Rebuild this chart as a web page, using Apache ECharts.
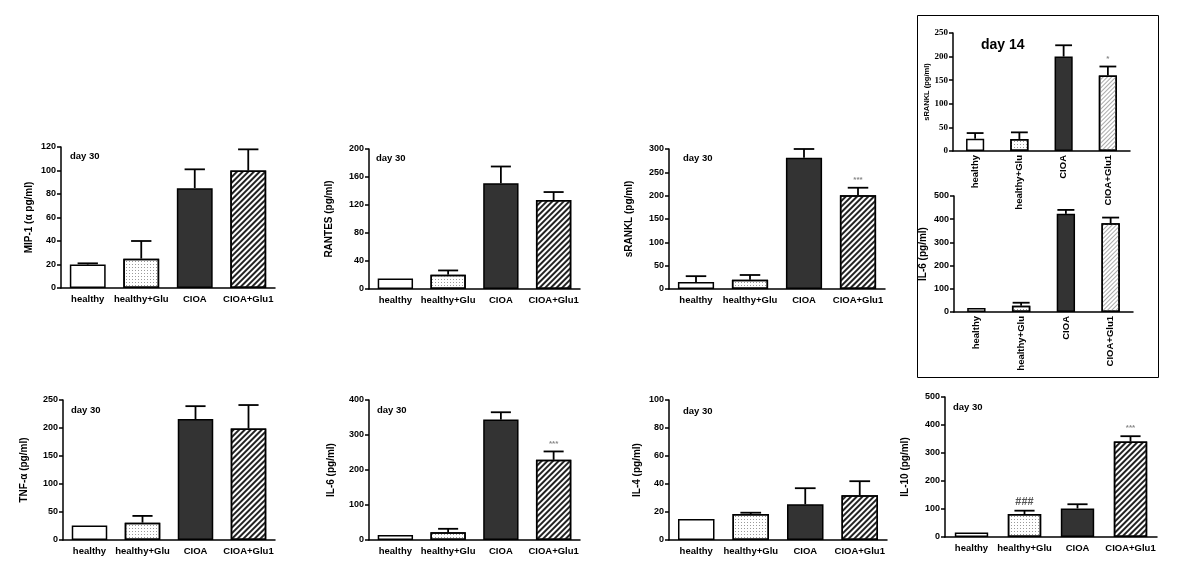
<!DOCTYPE html>
<html><head><meta charset="utf-8">
<script src="https://cdn.jsdelivr.net/npm/echarts@6/dist/echarts.min.js"></script>
<style>html,body{margin:0;padding:0;background:#fff}#c{width:1200px;height:573px}</style>
</head><body><div id="c"></div>
<script>
const categories = ['healthy', 'healthy+Glu', 'CIOA', 'CIOA+Glu1'];

const mip1Mean = [20, 25, 85, 100];
const mip1Err = [1, 15, 16, 18];
const mip1Sig = ['', '', '', ''];
const mip1Axis = [0, 120, 20];

const rantesMean = [15, 20.5, 151, 127];
const rantesErr = [0, 6, 24, 11.5];
const rantesSig = ['', '', '', ''];
const rantesAxis = [0, 200, 40];

const srankl30Mean = [15, 20, 281, 201];
const srankl30Err = [12.5, 10, 19, 16];
const srankl30Sig = ['', '', '', '***'];
const srankl30Axis = [0, 300, 50];

const srankl14Mean = [26, 25.5, 200, 160];
const srankl14Err = [12, 14, 24, 19];
const srankl14Sig = ['', '', '', '*'];
const srankl14Axis = [0, 250, 50];

const il6d14Mean = [17, 27, 423, 383];
const il6d14Err = [0, 13, 17, 24];
const il6d14Sig = ['', '', '', ''];
const il6d14Axis = [0, 500, 100];

const tnfMean = [26, 31, 216, 199];
const tnfErr = [0, 12, 23, 42];
const tnfSig = ['', '', '', ''];
const tnfAxis = [0, 250, 50];

const il6d30Mean = [14, 22, 344, 229];
const il6d30Err = [0, 10, 21, 24];
const il6d30Sig = ['', '', '', '***'];
const il6d30Axis = [0, 400, 100];

const il4Mean = [15, 18.5, 25.5, 32];
const il4Err = [0, 1, 11.5, 10];
const il4Sig = ['', '', '', ''];
const il4Axis = [0, 100, 20];

const il10Mean = [16, 82, 102, 341];
const il10Err = [0, 12, 15, 19];
const il10Sig = ['', '###', '', '***'];
const il10Axis = [0, 500, 100];

const FONT = '"Liberation Sans", Arial, sans-serif';

const panels = [
  {mean: mip1Mean, err: mip1Err, sig: mip1Sig, axis: mip1Axis, name: 'MIP-1 (α pg/ml)', g: {left: 61, top: 147, width: 214, height: 141}, gap: 27, bw: '67%', day: [70, 157]},
  {mean: rantesMean, err: rantesErr, sig: rantesSig, axis: rantesAxis, name: 'RANTES (pg/ml)', g: {left: 369, top: 149, width: 211, height: 140}, gap: 35, bw: '67%', day: [376, 159]},
  {mean: srankl30Mean, err: srankl30Err, sig: srankl30Sig, axis: srankl30Axis, name: 'sRANKL (pg/ml)', g: {left: 669, top: 149, width: 216, height: 140}, gap: 35, bw: '67%', day: [683, 159]},
  {mean: srankl14Mean, err: srankl14Err, sig: srankl14Sig, axis: srankl14Axis, name: 'sRANKL (pg/ml)', g: {left: 953, top: 33, width: 177, height: 118}, gap: 22, bw: '41%', rot: true, serif: true, light: true, nameSize: 7.5},
  {mean: il6d14Mean, err: il6d14Err, sig: il6d14Sig, axis: il6d14Axis, name: 'IL-6 (pg/ml)', g: {left: 954, top: 196, width: 179, height: 116}, gap: 26, bw: '41%', rot: true, light: true},
  {mean: tnfMean, err: tnfErr, sig: tnfSig, axis: tnfAxis, name: 'TNF-α (pg/ml)', g: {left: 63, top: 400, width: 212, height: 140}, gap: 34, bw: '67%', day: [71, 411]},
  {mean: il6d30Mean, err: il6d30Err, sig: il6d30Sig, axis: il6d30Axis, name: 'IL-6 (pg/ml)', g: {left: 369, top: 400, width: 211, height: 140}, gap: 33, bw: '67%', day: [377, 411]},
  {mean: il4Mean, err: il4Err, sig: il4Sig, axis: il4Axis, name: 'IL-4 (pg/ml)', g: {left: 669, top: 400, width: 218, height: 140}, gap: 27, bw: '67%', day: [683, 412]},
  {mean: il10Mean, err: il10Err, sig: il10Sig, axis: il10Axis, name: 'IL-10 (pg/ml)', g: {left: 945, top: 397, width: 212, height: 140}, gap: 35, bw: '63%', day: [953, 408]}
];

function itemStyles(light) {
  return [
    {color: '#fff'},
    {color: '#fff', decal: {symbol: 'rect', symbolSize: 1, dashArrayX: [1, 2], dashArrayY: [1, 2], color: '#9a9a9a'}},
    {color: '#333'},
    {color: '#fff', decal: {symbol: 'rect', symbolSize: 1, dashArrayX: [1, 0], dashArrayY: light ? [1, 2] : [1.6, 1.4], rotation: -Math.PI / 4, color: light ? '#aaa' : '#222'}}
  ];
}

const grid = [], xAxis = [], yAxis = [], series = [], graphic = [];
panels.forEach((p, k) => {
  grid.push(Object.assign({containLabel: false}, p.g));
  xAxis.push({
    type: 'category', gridIndex: k, data: categories,
    axisLine: {lineStyle: {color: '#000', width: 1.5}},
    axisTick: {show: false},
    axisLabel: {color: '#000', fontFamily: FONT, fontWeight: 'bold', fontSize: 9.5, margin: p.rot ? 4 : 6, rotate: p.rot ? 90 : 0, interval: 0}
  });
  yAxis.push({
    type: 'value', gridIndex: k, min: p.axis[0], max: p.axis[1], interval: p.axis[2],
    name: p.name, nameLocation: 'middle', nameGap: p.gap, nameRotate: 90,
    nameTextStyle: {color: '#000', fontFamily: FONT, fontWeight: 'bold', fontSize: p.nameSize || 10},
    axisLine: {show: true, lineStyle: {color: '#000', width: 1.5}},
    axisTick: {show: true, length: 4, lineStyle: {color: '#000', width: 1.5}},
    splitLine: {show: false},
    axisLabel: {color: '#000', fontFamily: p.serif ? '"Liberation Serif", "Times New Roman", serif' : FONT, fontWeight: 'bold', fontSize: 9, margin: 5}
  });
  const st = itemStyles(p.light);
  series.push({
    type: 'bar', xAxisIndex: k, yAxisIndex: k, barWidth: p.bw, silent: true, z: 2,
    data: p.mean.map((v, i) => ({value: v, itemStyle: Object.assign({borderColor: '#000', borderWidth: 1.5}, st[i])}))
  });
  const sig = p.sig;
  series.push({
    type: 'custom', xAxisIndex: k, yAxisIndex: k, silent: true, z: 3,
    data: p.mean.map((v, i) => [i, v, p.err[i]]),
    renderItem: function (params, api) {
      const i = api.value(0), m = api.value(1), e = api.value(2);
      const base = api.coord([i, m]);
      const top = api.coord([i, m + e]);
      const half = api.size([1, 0])[0] * 0.19;
      const children = [];
      if (e > 0) {
        children.push({type: 'line', shape: {x1: base[0], y1: base[1], x2: top[0], y2: top[1]}, style: {stroke: '#000', lineWidth: 1.8}});
        children.push({type: 'line', shape: {x1: top[0] - half, y1: top[1], x2: top[0] + half, y2: top[1]}, style: {stroke: '#000', lineWidth: 1.8}});
      }
      const s = sig[params.dataIndex];
      if (s) {
        const hash = s.indexOf('#') >= 0;
        children.push({type: 'text', style: {text: s, x: top[0], y: top[1] - (hash ? 3 : 4), align: 'center', verticalAlign: 'bottom',
          fill: hash ? '#555' : '#888', font: (hash ? 'bold 11px ' : 'bold 8px ') + FONT}});
      }
      return {type: 'group', children: children};
    }
  });
  if (p.day) {
    graphic.push({type: 'text', left: p.day[0], top: p.day[1] - 6, style: {text: 'day 30', fill: '#000', font: 'bold 9.5px ' + FONT}});
  }
});

graphic.push({type: 'rect', shape: {x: 917.5, y: 15.5, width: 241, height: 362}, style: {fill: 'none', stroke: '#000', lineWidth: 1}, z: 10});
graphic.push({type: 'text', left: 981, top: 38, style: {text: 'day 14', fill: '#000', font: 'bold 14px ' + FONT}});

const chart = echarts.init(document.getElementById('c'), null, {renderer: 'canvas'});
chart.setOption({animation: false, backgroundColor: '#fff', grid, xAxis, yAxis, series, graphic});
</script></body></html>
